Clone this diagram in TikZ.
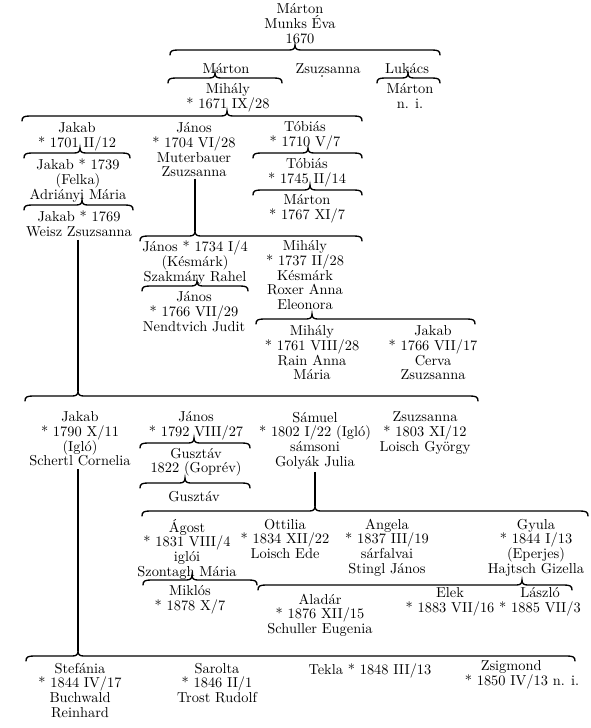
\documentclass[tikz,border=0pt]{standalone}
\usepackage{fontspec}
\begin{document}
\begin{tikzpicture}[x=0.75pt,y=-0.75pt,
  p/.style={anchor=north,inner sep=0pt,align=center,yshift=7pt,
    font=\fontsize{10.8}{11}\selectfont,execute at begin node=\rule{0pt}{10pt}},
  bracestyle/.style={line width=1pt,line cap=round},
  vline/.style={line width=1.6pt}]
\useasboundingbox (0,0) rectangle (590,728);
\fill[white] (0,0) rectangle (590,728);
% brace: y, x1, xc, x2
\newcommand\fbrace[4]{%
  \draw[bracestyle] (#2,#1+5) .. controls (#2,#1+1) and (#2+2,#1) .. (#2+8,#1)
    -- (#3-6,#1) .. controls (#3-2,#1) and (#3,#1-1) .. (#3,#1-5)
    .. controls (#3,#1-1) and (#3+2,#1) .. (#3+6,#1)
    -- (#4-8,#1) .. controls (#4-2,#1) and (#4,#1+1) .. (#4,#1+5);}
% generation 0
\node[p] (n0) at (300,13) {Márton\\Munks Éva\\1670};
\fbrace{50}{170}{295}{440}
\node[p] (m1) at (226,69) {Márton};
\node[p] (z1) at (328,69) {Zsuzsanna};
\fill (322,76) circle (0.8);
\node[p] (l1) at (407,69) {Lukács};
\fbrace{78}{168}{215}{282}
\fbrace{78}{377}{408}{440}
\node[p] (mi) at (228,93) {Mihály\\* 1671 IX/28};
\node[p] (ml) at (410,93) {Márton\\n. i.};
\fbrace{116}{22}{227}{362}
% generation 2
\node[p] (ja1) at (77,132) {Jakab\\* 1701 II/12};
\node[p] (jn1) at (194,132) {János\\* 1704 VI/28\\Muterbauer\\Zsuzsanna};
\node[p] (tb1) at (305,131) {Tóbiás\\* 1710 V/7};
\fbrace{153}{24}{80}{130}
\node[p] (ja2) at (78,168) {Jakab * 1739\\(Felka)\\Adriányi Mária};
\fbrace{205}{24}{82}{133}
\node[p] (ja3) at (79,220) {Jakab * 1769\\Weisz Zsuzsanna};
\fbrace{153}{253}{308}{362}
\node[p] (tb2) at (307,168) {Tóbiás\\* 1745 II/14};
\fbrace{190}{253}{310}{362}
\node[p] (mr) at (307,204) {Márton\\* 1767 XI/7};
\coordinate (c8) at (195,231);
\fbrace{236}{140}{195}{362}
\draw[vline] ([yshift=-1pt]jn1.south -| c8) -- (c8);
% generation 3
\node[p] (jn2) at (195,250) {János * 1734 I/4\\(Késmárk)\\Szakmáry Rahel};
\node[p] (mh2) at (305,250) {Mihály\\* 1737 II/28\\Késmárk\\Roxer Anna\\Eleonora};
\fbrace{286}{142}{197}{248}
\node[p] (jn3) at (194,301) {János\\* 1766 VII/29\\Nendtvich Judit};
\fbrace{319}{256}{312}{475}
\node[p] (mh3) at (312,335) {Mihály\\* 1761 VIII/28\\Rain Anna\\Mária};
\node[p] (ja4) at (433,335) {Jakab\\* 1766 VII/17\\Cerva\\Zsuzsanna};
\coordinate (c11) at (78,391);
\fbrace{396}{25}{78}{478}
\draw[vline] ([yshift=-2pt]ja3.south -| c11) -- (c11);
% generation 4
\node[p] (ja5) at (80,421) {Jakab\\* 1790 X/11\\(Igló)\\Schertl Cornelia};
\node[p] (jn4) at (196,421) {János\\* 1792 VIII/27};
\fbrace{443}{140}{194}{250}
\node[p] (gu1) at (196,457) {Gusztáv\\1822 (Goprév)};
\fbrace{483}{140}{185}{250}
\node[p] (gu2) at (194,497) {Gusztáv};
\node[p] (sm) at (315,421) {Sámuel\\* 1802 I/22 (Igló)\\sámsoni\\Golyák Julia};
\node[p] (zs) at (425,421) {Zsuzsanna\\* 1803 XI/12\\Loisch György};
\coordinate (c14) at (315,506);
\fbrace{511}{142}{315}{588}
\draw[vline] ([yshift=-2pt]sm.south -| c14) -- (c14);
% generation 5
\node[p] (ag) at (187,528) {Ágost\\* 1831 VIII/4\\iglói\\Szontagh Mária};
\node[p] (ot) at (285,528) {Ottilia\\* 1834 XII/22\\Loisch Ede};
\node[p] (an) at (387,528) {Angela\\* 1837 III/19\\sárfalvai\\Stingl János};
\node[p] (gy) at (536,528) {Gyula\\* 1844 I/13\\(Eperjes)\\Hajtsch Gizella};
\fbrace{580}{143}{192}{257}
\node[p] (mk) at (190,595) {Miklós\\* 1878 X/7};
\fbrace{585}{258}{522}{572}
\node[p] (al) at (320,603) {Aladár\\* 1876 XII/15\\Schuller Eugenia};
\node[p] (el) at (450,597) {Elek\\* 1883 VII/16};
\node[p] (ls) at (540,597) {László\\* 1885 VII/3};
% last row
\coordinate (c17) at (78,651);
\fbrace{656}{26}{78}{575}
\draw[vline] ([yshift=-2pt]ja5.south -| c17) -- (c17);
\node[p] (st) at (80,672) {Stefánia\\* 1844 IV/17\\Buchwald\\Reinhard};
\node[p] (sa) at (217,672) {Sarolta\\* 1846 II/1\\Trost Rudolf};
\node[p] (tk) at (370,670) {Tekla * 1848 III/13};
\node[p] (zg) at (522,670) {Zsigmond\hspace*{1.5em}\\* 1850 IV/13 n. i.};
\end{tikzpicture}
\end{document}
